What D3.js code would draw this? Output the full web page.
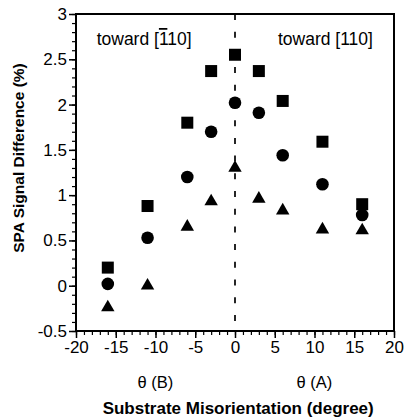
<!DOCTYPE html>
<html>
<head>
<meta charset="utf-8">
<script src="https://cdn.jsdelivr.net/npm/d3@7"></script>
<style>
  body { margin: 0; background: #fff; }
  svg { display: block; font-family: "Liberation Sans", Arial, sans-serif; }
</style>
</head>
<body>
<svg id="chart" width="404" height="419"></svg>
<script>
const ANGLES = [-16, -11, -6, -3, 0, 3, 6, 11, 16];
const SQUARES = [0.2, 0.88, 1.8, 2.37, 2.55, 2.37, 2.04, 1.59, 0.9];
const CIRCLES = [0.02, 0.53, 1.2, 1.7, 2.02, 1.91, 1.44, 1.12, 0.78];
const TRIANGLES = [-0.24, 0.0, 0.65, 0.93, 1.3, 0.96, 0.83, 0.62, 0.61];
const X_TICKS = [-20, -15, -10, -5, 0, 5, 10, 15, 20];
const Y_TICKS = [-0.5, 0, 0.5, 1, 1.5, 2, 2.5, 3];

const margin = { top: 14, right: 10, bottom: 88, left: 76 };
const width = 404, height = 419;
const innerW = width - margin.left - margin.right;
const innerH = height - margin.top - margin.bottom;

const svg = d3.select("#chart");
const g = svg.append("g").attr("transform", `translate(${margin.left},${margin.top})`);

const x = d3.scaleLinear().domain([-20, 20]).range([0, innerW]);
const y = d3.scaleLinear().domain([-0.5, 3]).range([innerH, 0]);

// minor ticks
g.append("g")
  .attr("transform", `translate(0,${innerH})`)
  .call(d3.axisBottom(x).tickValues(d3.range(-20, 21, 1)).tickSize(4).tickFormat(""))
  .call(a => a.select(".domain").remove())
  .call(a => a.selectAll(".tick line").attr("stroke", "#000").attr("stroke-width", 1.2));
g.append("g")
  .call(d3.axisLeft(y).tickValues(d3.range(-5, 31, 1).map(d => d / 10)).tickSize(4).tickFormat(""))
  .call(a => a.select(".domain").remove())
  .call(a => a.selectAll(".tick line").attr("stroke", "#000").attr("stroke-width", 1.2));

// major ticks + labels
g.append("g")
  .attr("transform", `translate(0,${innerH})`)
  .call(d3.axisBottom(x).tickValues(X_TICKS).tickSize(7).tickPadding(3).tickFormat(d => d))
  .call(a => a.select(".domain").remove())
  .call(a => a.selectAll(".tick line").attr("stroke", "#000").attr("stroke-width", 1.5))
  .call(a => a.selectAll(".tick text").attr("fill", "#000").style("font-size", "17px").style("font-family", "Liberation Sans, Arial, sans-serif"));
g.append("g")
  .call(d3.axisLeft(y).tickValues(Y_TICKS).tickSize(7).tickPadding(2).tickFormat(d => d))
  .call(a => a.select(".domain").remove())
  .call(a => a.selectAll(".tick line").attr("stroke", "#000").attr("stroke-width", 1.5))
  .call(a => a.selectAll(".tick text").attr("fill", "#000").style("font-size", "17px").style("font-family", "Liberation Sans, Arial, sans-serif"));

// frame
g.append("rect")
  .attr("width", innerW).attr("height", innerH)
  .attr("fill", "none").attr("stroke", "#000").attr("stroke-width", 2);

// dashed zero line
g.append("line")
  .attr("x1", x(0)).attr("x2", x(0))
  .attr("y1", 0).attr("y2", innerH)
  .attr("stroke", "#000").attr("stroke-width", 1.7)
  .attr("stroke-dasharray", "6,11.7");

// markers
const pts = (vals) => ANGLES.map((a, i) => ({ a, v: vals[i] }));
g.selectAll(".sq").data(pts(SQUARES)).join("rect")
  .attr("x", d => x(d.a) - 6).attr("y", d => y(d.v) - 6)
  .attr("width", 12).attr("height", 12).attr("fill", "#000");
g.selectAll(".ci").data(pts(CIRCLES)).join("circle")
  .attr("cx", d => x(d.a)).attr("cy", d => y(d.v)).attr("r", 6.3).attr("fill", "#000");
const tri = d3.symbol().type(d3.symbolTriangle).size(78);
g.selectAll(".tr").data(pts(TRIANGLES)).join("path")
  .attr("transform", d => `translate(${x(d.a)},${y(d.v)})`)
  .attr("d", tri).attr("fill", "#000");

// annotations
const t1 = g.append("text").attr("x", x(-17.4)).attr("y", 31)
  .style("font-size", "17.5px").attr("fill", "#000");
t1.append("tspan").text("toward [");
t1.append("tspan").style("text-decoration", "overline").text("1");
t1.append("tspan").text("10]");
g.append("text").attr("x", x(5.4)).attr("y", 31)
  .style("font-size", "17.5px").attr("fill", "#000").text("toward [110]");

// sub labels
g.append("text").attr("x", x(-10)).attr("y", innerH + 57)
  .attr("text-anchor", "middle").style("font-size", "16.5px").text("θ (B)");
g.append("text").attr("x", x(10)).attr("y", innerH + 57)
  .attr("text-anchor", "middle").style("font-size", "16.5px").text("θ (A)");

// axis titles
g.append("text").attr("x", x(0.4)).attr("y", innerH + 83)
  .attr("text-anchor", "middle").style("font-size", "17px").style("font-weight", "bold")
  .text("Substrate Misorientation (degree)");
svg.append("text")
  .attr("transform", "translate(24,158) rotate(-90)")
  .attr("text-anchor", "middle").style("font-size", "15.5px").style("font-weight", "bold")
  .text("SPA Signal Difference (%)");
</script>
</body>
</html>
